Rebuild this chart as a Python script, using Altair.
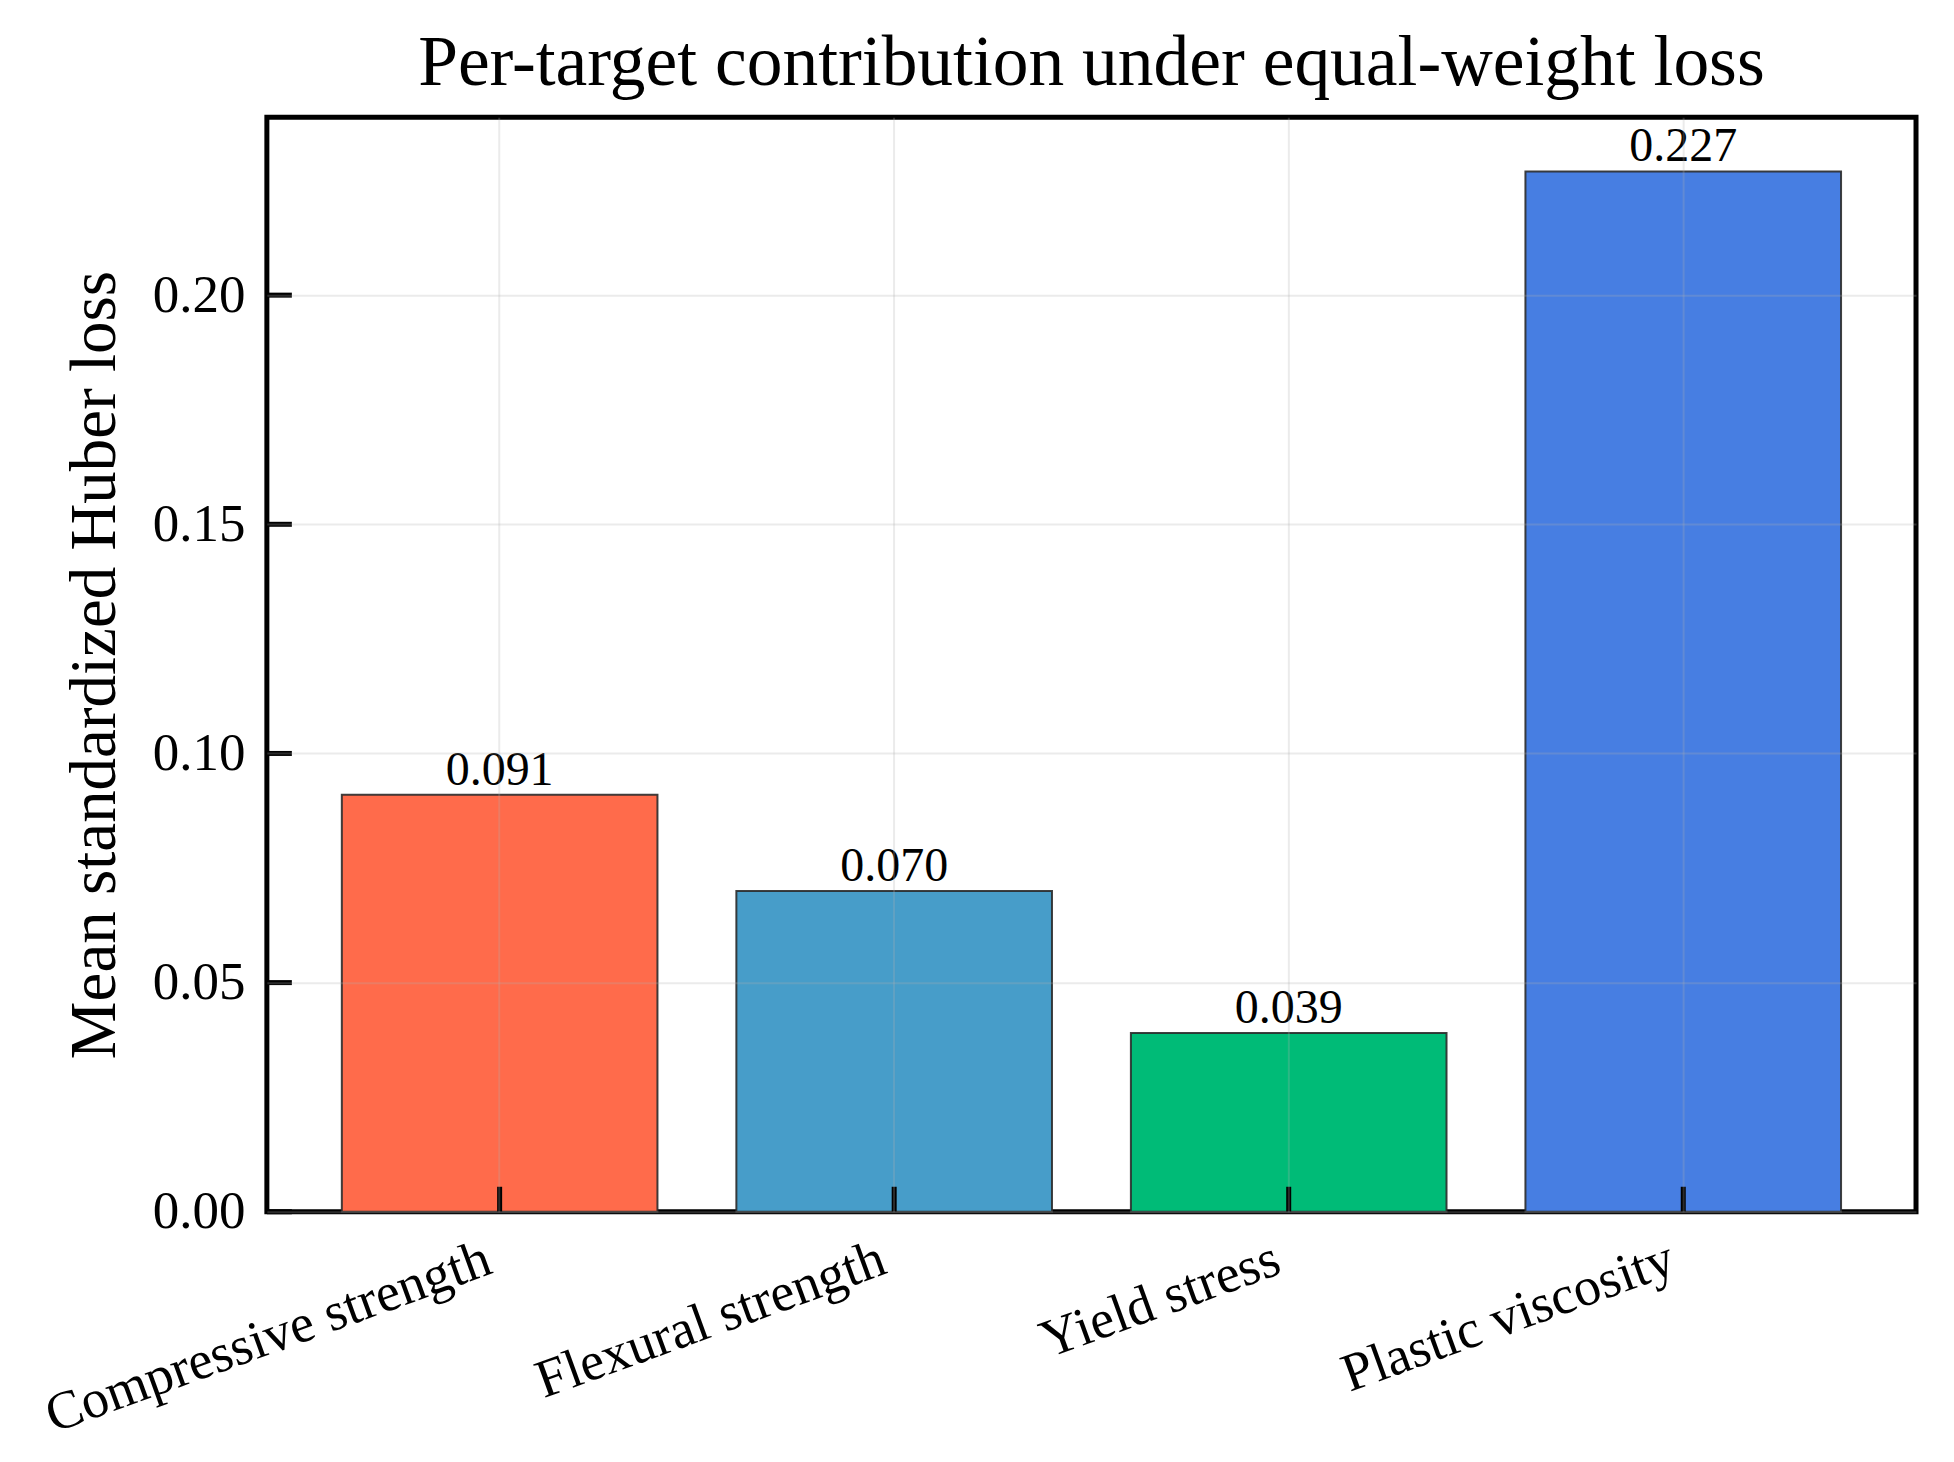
import altair as alt
import pandas as pd

# ---- data ----
title_text = "Per-target contribution under equal-weight loss"
categories = ["Compressive strength", "Flexural strength", "Yield stress", "Plastic viscosity"]
values = [0.091, 0.070, 0.039, 0.227]
colors = ["#FF6B4B", "#479DC9", "#00BB77", "#477EE2"]
y_ticks = [0.0, 0.05, 0.10, 0.15, 0.20]
y_max = 0.2388

FONT = "Liberation Serif"
W, H = 1650, 1095

df = pd.DataFrame({"target": categories, "loss": values})
ticks_df = pd.DataFrame({"v": y_ticks})
title_df = pd.DataFrame({"t": [title_text]})

x_scale = alt.Scale(domain=categories, paddingInner=0.2, paddingOuter=0.19)
y_scale = alt.Scale(domain=[0, y_max], nice=False, zero=True)

x_axis = alt.Axis(
    title=None, domain=False, ticks=False, grid=True, bandPosition=0.5,
    gridColor="#b0b0b0", gridOpacity=0.25, gridWidth=2,
    labelAngle=340, labelAlign="right", labelBaseline="top", labelLimit=2000,
    labelFont=FONT, labelFontSize=54, labelColor="black", labelPadding=20,
    labelOffset=-20, zindex=1,
)
y_axis = alt.Axis(
    title="Mean standardized Huber loss", values=y_ticks, format=".2f",
    domain=False, ticks=False, grid=True,
    gridColor="#b0b0b0", gridOpacity=0.25, gridWidth=2,
    labelFont=FONT, labelFontSize=53, labelColor="black", labelPadding=22,
    titleFont=FONT, titleFontSize=65, titleFontWeight="normal", titleColor="black",
    titlePadding=24, zindex=1,
)

base = alt.Chart(df)

bars = base.mark_bar(stroke="#2b2b2b", strokeWidth=2, strokeOpacity=0.9).encode(
    x=alt.X("target:N", sort=None, scale=x_scale, axis=x_axis),
    y=alt.Y("loss:Q", scale=y_scale, axis=y_axis),
    color=alt.Color("target:N", scale=alt.Scale(domain=categories, range=colors), legend=None),
)

labels = base.mark_text(
    font=FONT, fontSize=48, baseline="alphabetic", align="center", dy=-10, color="black"
).encode(
    x=alt.X("target:N", sort=None, scale=x_scale),
    y=alt.Y("loss:Q", scale=y_scale),
    text=alt.Text("loss:Q", format=".3f"),
)

x_ticks = base.mark_rule(color="black", strokeWidth=5).encode(
    x=alt.X("target:N", sort=None, scale=x_scale),
    y=alt.value(H),
    y2=alt.value(H - 25),
)

y_tick_marks = alt.Chart(ticks_df).mark_rule(color="black", strokeWidth=5).encode(
    y=alt.Y("v:Q", scale=y_scale),
    x=alt.value(0),
    x2=alt.value(25),
)

title_mark = alt.Chart(title_df).mark_text(
    font=FONT, fontSize=71.5, baseline="alphabetic", align="center", color="black"
).encode(
    text="t:N",
    x=alt.value(W / 2),
    y=alt.value(-32),
)

chart = (
    alt.layer(bars, labels, x_ticks, y_tick_marks, title_mark)
    .properties(
        width=W,
        height=H,
        background="white",
        autosize=alt.AutoSizeParams(type="none"),
        padding={"left": 259, "top": 109, "right": 30, "bottom": 242},
    )
    .configure_view(stroke="black", strokeWidth=5)
)

chart.save("out.html", embed_options={"renderer": "svg", "actions": False})
